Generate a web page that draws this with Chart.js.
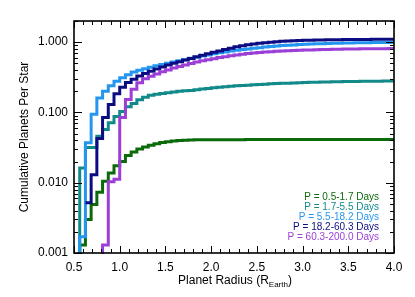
<!DOCTYPE html>
<html>
<head>
<meta charset="utf-8">
<script src="https://cdn.jsdelivr.net/npm/chart.js@4.4.1/dist/chart.umd.min.js"></script>
<style>
  html, body { margin: 0; padding: 0; background: #fff; }
  #wrap { width: 415px; height: 297px; }
</style>
</head>
<body>
<div id="wrap"><canvas id="chart" width="415" height="297"></canvas></div>
<script>
// bin edges in Earth radii (each value holds until the next edge)
const radius = [
  0.5, 0.5625, 0.625, 0.6875, 0.75, 0.8125, 0.875, 0.9375,
  1.0, 1.0625, 1.125, 1.1875, 1.25, 1.3125, 1.375, 1.4375,
  1.5, 1.5625, 1.625, 1.6875, 1.75, 1.8125, 1.875, 1.9375,
  2.0, 2.0625, 2.125, 2.1875, 2.25, 2.3125, 2.375, 2.4375,
  2.5, 2.5625, 2.625, 2.6875, 2.75, 2.8125, 2.875, 2.9375,
  3.0, 3.0625, 3.125, 3.1875, 3.25, 3.3125, 3.375, 3.4375,
  3.5, 3.5625, 3.625, 3.6875, 3.75, 3.8125, 3.875, 3.9375, 4.0
];

// cumulative planets per star, one array per period bin
const p05to17 = [
  0.0009, 0.0013, 0.003, 0.0049, 0.0073, 0.0105, 0.0138, 0.0175,
  0.0201, 0.0243, 0.0273, 0.0301, 0.0321, 0.0341, 0.0358, 0.0373,
  0.0384, 0.0392, 0.0398, 0.0402, 0.0406, 0.0408, 0.0409, 0.041,
  0.041, 0.041, 0.041, 0.041, 0.041, 0.041, 0.0411, 0.0411,
  0.0411, 0.0411, 0.0411, 0.0411, 0.0411, 0.0411, 0.0411, 0.0411,
  0.0412, 0.0412, 0.0412, 0.0412, 0.0412, 0.0412, 0.0412, 0.0412,
  0.0412, 0.0412, 0.0413, 0.0413, 0.0413, 0.0413, 0.0413, 0.0413, 0.0413
];
const p17to55 = [
  0.0005, 0.0162, 0.0316, 0.0316, 0.0459, 0.0572, 0.0713, 0.0877,
  0.103, 0.12, 0.1345, 0.151, 0.164, 0.175, 0.181, 0.186,
  0.19, 0.195, 0.1995, 0.203, 0.206, 0.211, 0.215, 0.2195,
  0.224, 0.2276, 0.232, 0.235, 0.239, 0.2415, 0.2445, 0.2475,
  0.25, 0.2528, 0.2553, 0.2578, 0.2595, 0.2612, 0.263, 0.2647,
  0.2665, 0.2683, 0.2692, 0.27, 0.271, 0.2728, 0.2737, 0.2746,
  0.2755, 0.2764, 0.2773, 0.2778, 0.2782, 0.2787, 0.279, 0.279, 0.279
];
const p55to182 = [
  0.0006, 0.0017, 0.037, 0.094, 0.16, 0.2, 0.239, 0.277,
  0.311, 0.343, 0.375, 0.398, 0.418, 0.44, 0.46, 0.48,
  0.501, 0.521, 0.542, 0.564, 0.589, 0.611, 0.635, 0.659,
  0.683, 0.706, 0.727, 0.746, 0.766, 0.784, 0.8, 0.818,
  0.834, 0.851, 0.865, 0.88, 0.894, 0.903, 0.912, 0.924,
  0.933, 0.939, 0.946, 0.952, 0.958, 0.964, 0.968, 0.971,
  0.974, 0.977, 0.98, 0.984, 0.985, 0.987, 0.989, 0.99, 0.99
];
const p182to603 = [
  null, null, 0.0052, 0.013, 0.0425, 0.085, 0.13, 0.185,
  0.228, 0.266, 0.296, 0.329, 0.357, 0.387, 0.414, 0.444,
  0.472, 0.5, 0.528, 0.557, 0.587, 0.618, 0.65, 0.683,
  0.717, 0.751, 0.787, 0.821, 0.857, 0.888, 0.918, 0.943,
  0.964, 0.98, 0.997, 1.013, 1.027, 1.037, 1.047, 1.054,
  1.061, 1.066, 1.072, 1.075, 1.079, 1.082, 1.086, 1.088,
  1.089, 1.091, 1.093, 1.095, 1.096, 1.096, 1.098, 1.1, 1.1
];
const p603to2000 = [
  null, null, null, null, 0.0005, 0.0013, 0.0103, 0.0112,
  0.085, 0.153, 0.213, 0.265, 0.301, 0.327, 0.352, 0.378,
  0.403, 0.428, 0.451, 0.474, 0.496, 0.52, 0.542, 0.562,
  0.583, 0.603, 0.621, 0.639, 0.656, 0.672, 0.688, 0.701,
  0.713, 0.722, 0.732, 0.741, 0.749, 0.756, 0.761, 0.766,
  0.771, 0.776, 0.782, 0.784, 0.789, 0.792, 0.794, 0.797,
  0.8, 0.802, 0.804, 0.805, 0.806, 0.808, 0.809, 0.81, 0.81
];

const seriesLabels = [
  "P = 0.5-1.7 Days",
  "P = 1.7-5.5 Days",
  "P = 5.5-18.2 Days",
  "P = 18.2-60.3 Days",
  "P = 60.3-200.0 Days"
];
const seriesColors = ["#0b6b0b", "#138a8a", "#2596f0", "#0c0c82", "#9b3fd6"];
const seriesValues = [p05to17, p17to55, p55to182, p182to603, p603to2000];

const xTicks = [0.5, 1.0, 1.5, 2.0, 2.5, 3.0, 3.5, 4.0];
const yTicks = [0.001, 0.01, 0.1, 1];

const FONT = "'Liberation Sans', Arial, Helvetica, sans-serif";

// inward IDL-style ticks, box frame, legend text and axis titles
const decorations = {
  id: "decorations",
  afterDraw(chart) {
    const { ctx, chartArea: a, scales: { x, y } } = chart;
    ctx.save();
    ctx.strokeStyle = "#000";
    ctx.lineWidth = 1;
    ctx.beginPath();
    for (let i = 0; i <= 35; i++) {
      const v = 0.5 + i * 0.1;
      const px = Math.round(x.getPixelForValue(v)) + 0.5;
      const len = i % 5 === 0 ? 7 : 4;
      ctx.moveTo(px, a.bottom); ctx.lineTo(px, a.bottom - len);
      ctx.moveTo(px, a.top); ctx.lineTo(px, a.top + len);
    }
    for (let e = -3; e <= 0; e++) {
      for (let m = 1; m <= 9; m++) {
        const v = m * Math.pow(10, e);
        if (v > y.max) break;
        const py = Math.round(y.getPixelForValue(v)) + 0.5;
        const len = m === 1 ? 8 : 4;
        ctx.moveTo(a.left, py); ctx.lineTo(a.left + len, py);
        ctx.moveTo(a.right, py); ctx.lineTo(a.right - len, py);
      }
    }
    ctx.stroke();
    ctx.lineWidth = 1.6;
    ctx.strokeRect(a.left, a.top, a.right - a.left, a.bottom - a.top);

    // legend
    ctx.font = "10px " + FONT;
    ctx.textAlign = "right";
    ctx.textBaseline = "middle";
    seriesLabels.forEach((lab, i) => {
      ctx.fillStyle = seriesColors[i];
      ctx.fillText(lab, 379, 197 + i * 10);
    });

    // x title with subscript
    ctx.fillStyle = "#000";
    ctx.textAlign = "left";
    ctx.textBaseline = "alphabetic";
    const big = "12px " + FONT, small = "8px " + FONT;
    const parts = [["Planet Radius (R", big, 0], ["Earth", small, 3], [")", big, 0]];
    let total = 0;
    parts.forEach(p => { ctx.font = p[1]; total += ctx.measureText(p[0]).width; });
    let cx = 235 - total / 2;
    parts.forEach(p => {
      ctx.font = p[1];
      ctx.fillText(p[0], cx, 284 + p[2]);
      cx += ctx.measureText(p[0]).width;
    });

    // y title
    ctx.font = big;
    ctx.textAlign = "center";
    ctx.textBaseline = "middle";
    ctx.translate(25, (a.top + a.bottom) / 2);
    ctx.rotate(-Math.PI / 2);
    ctx.fillText("Cumulative Planets Per Star", 0, 0);
    ctx.restore();
  }
};

const datasets = seriesValues.map((vals, i) => ({
  label: seriesLabels[i],
  data: radius.map((r, k) => ({ x: r, y: vals[k] })),
  borderColor: seriesColors[i],
  backgroundColor: seriesColors[i],
  borderWidth: 3,
  pointRadius: 0,
  stepped: "before",
  fill: false,
  spanGaps: false,
  clip: 1,
  order: seriesValues.length - i
}));

new Chart(document.getElementById("chart").getContext("2d"), {
  type: "line",
  data: { datasets },
  options: {
    responsive: false,
    animation: false,
    devicePixelRatio: 1,
    layout: { padding: { top: 21, right: 21, left: 0, bottom: 0 } },
    plugins: { legend: { display: false }, tooltip: { enabled: false } },
    scales: {
      x: {
        type: "linear",
        min: 0.5,
        max: 4.0,
        afterBuildTicks: s => { s.ticks = xTicks.map(v => ({ value: v })); },
        afterFit: s => { s.height = 44; },
        grid: { display: false, drawTicks: false },
        border: { display: false },
        ticks: {
          padding: 7,
          color: "#000",
          font: { family: FONT, size: 12 },
          maxRotation: 0,
          autoSkip: false,
          callback: v => Number(v).toFixed(1)
        }
      },
      y: {
        type: "logarithmic",
        min: 0.001,
        max: 2,
        afterBuildTicks: s => { s.ticks = yTicks.map(v => ({ value: v })); },
        afterFit: s => { s.width = 74; },
        grid: { display: false, drawTicks: false },
        border: { display: false },
        ticks: {
          padding: 6,
          color: "#000",
          font: { family: FONT, size: 12 },
          autoSkip: false,
          callback: v => Number(v).toFixed(3)
        }
      }
    }
  },
  plugins: [decorations]
});
</script>
</body>
</html>
